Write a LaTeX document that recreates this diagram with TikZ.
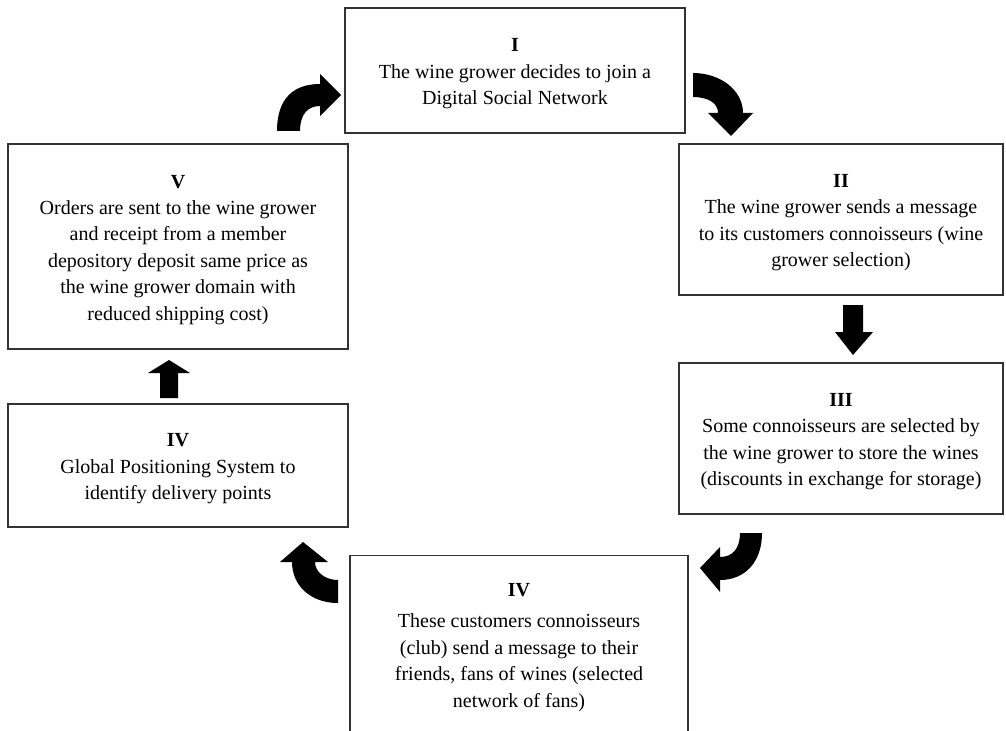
\documentclass[tikz,border=0pt]{standalone}
\usepackage{fontspec}
\setmainfont{Liberation Serif}
\usepackage{tikz}

\tikzset{
    stage/.style={draw=black!80, line width=1pt, align=center, inner sep=0pt,
        font=\fontsize{15}{19.8}\selectfont},
    bigarrow/.style={fill=black}
}
\newcommand{\stagetitle}[1]{\rule{0pt}{14.5pt}\textbf{#1}}

\begin{document}
\begin{tikzpicture}[x=0.75pt, y=-0.75pt]
    \useasboundingbox (0,0) rectangle (1006,731);

    % the six stages
    \node[stage, minimum width=255pt, minimum height=93.75pt] (join) at (515,70.5)
        {\stagetitle{I}\\The wine grower decides to join a\\Digital Social Network};
    \node[stage, minimum width=243pt, minimum height=113.25pt] (message) at (841,219.5)
        {\stagetitle{II}\\The wine grower sends a message\\to its customers connoisseurs (wine\\grower selection)};
    \node[stage, minimum width=243pt, minimum height=113.25pt] (store) at (841,438.5)
        {\stagetitle{III}\\Some connoisseurs are selected by\\the wine grower to store the wines\\(discounts in exchange for storage)};
    \node[stage, minimum width=253.5pt, minimum height=133pt] (club) at (519,644)
        {\stagetitle{IV}\\[4pt]These customers connoisseurs\\(club) send a message to their\\friends, fans of wines (selected\\network of fans)};
    \node[stage, minimum width=255pt, minimum height=92.25pt] (gps) at (178,465.5)
        {\stagetitle{IV}\\Global Positioning System to\\identify delivery points};
    \node[stage, minimum width=255pt, minimum height=153.75pt] (orders) at (178,246.5)
        {\stagetitle{V}\\Orders are sent to the wine grower\\and receipt from a member\\depository deposit same price as\\the wine grower domain with\\reduced shipping cost)};

    % block arrows between the stages
    \fill[bigarrow] (277,131) .. controls (277,97) and (295,84) .. (320,84)
        -- (320,74) -- (341,95) -- (320,116) -- (320,106)
        .. controls (308,106) and (300,114) .. (300,131) -- cycle;
    \fill[bigarrow] (693,73) .. controls (720,73) and (743,90) .. (743,113)
        -- (753,113) -- (731,136) -- (708,113) -- (718,113)
        .. controls (718,103) and (708,97) .. (693,97) -- cycle;
    \fill[bigarrow] (843,305) -- (863,305) -- (863,332) -- (873,332) -- (853,355)
        -- (835,332) -- (843,332) -- cycle;
    \fill[bigarrow] (762,533) .. controls (762,562) and (745,580) .. (720,580)
        -- (720,592) -- (700,568) -- (720,547) -- (720,557)
        .. controls (733,557) and (740,548) .. (740,533) -- cycle;
    \fill[bigarrow] (338,603) .. controls (310,603) and (292,585) .. (292,562)
        -- (280,562) -- (303,542) -- (328,562) -- (315,562)
        .. controls (315,572) and (325,580) .. (338,580) -- cycle;
    \fill[bigarrow] (160,398) -- (178,398) -- (178,373) -- (190,373) -- (169,360)
        -- (148,373) -- (160,373) -- cycle;
\end{tikzpicture}
\end{document}
